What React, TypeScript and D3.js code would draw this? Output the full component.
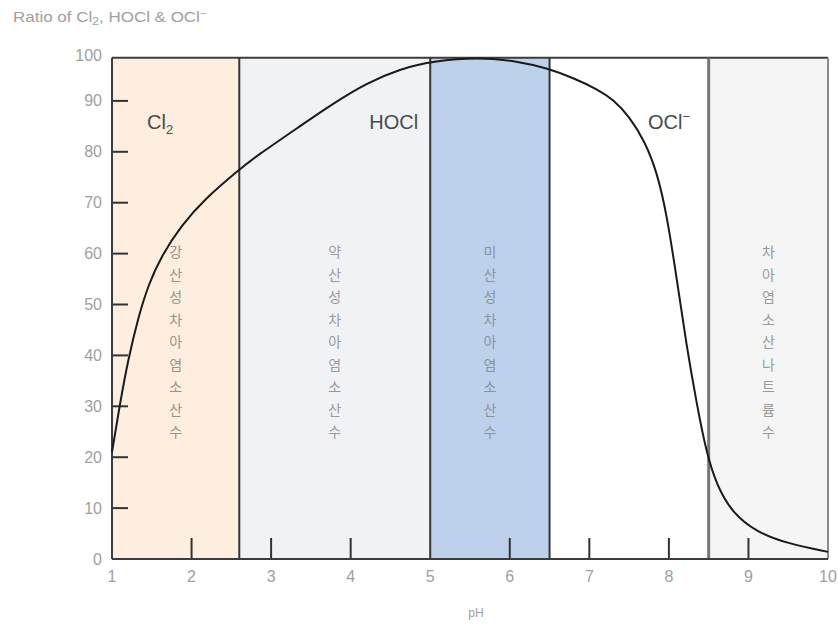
import React from "react";
import * as d3 from "d3";

// Distribution of HOCl across pH (percent)
const phValues = [1.0, 1.1, 1.2, 1.33, 1.46, 1.62, 1.87, 2.17, 2.6, 2.8, 3.36, 3.78, 4.2, 4.62, 5.03, 5.6, 6.1, 6.48, 6.8, 7.1, 7.3, 7.5, 7.7, 7.85, 7.97, 8.1, 8.22, 8.35, 8.47, 8.6, 8.8, 9.1, 9.5, 10.0];
const ratioValues = [21, 30.5, 39, 47.5, 54, 59.5, 65.5, 70.8, 76.5, 79, 85, 89.5, 93.5, 96.3, 97.8, 98.6, 97.8, 96.4, 94.5, 92.3, 90.3, 87, 82, 76, 68, 55, 42, 30.5, 21, 14.5, 9, 5.3, 3, 1.4];

// pH bands for the water types
const bandStarts = [1, 2.6, 5, 6.5, 8.5];
const bandEnds = [2.6, 5, 6.5, 8.5, 10];
const bandFills = ["#fdeedf", "#f1f2f6", "#bdd1ea", "#ffffff", "#f5f5f5"];
const bandNames = ["강산성차아염소산수", "약산성차아염소산수", "미산성차아염소산수", "", "차아염소산나트륨수"];
const bandNameColors = ["#9a928a", "#9a9a9e", "#8893a2", "#999", "#9a9a9a"];

const xTicks = [1, 2, 3, 4, 5, 6, 7, 8, 9, 10];
const xTickMarks = [2, 3, 4, 6, 7, 8, 9];
const yTicks = [0, 10, 20, 30, 40, 50, 60, 70, 80, 90, 100];
const yTickMarks = [10, 20, 30, 40, 50, 60, 70, 80, 90];
const frameTop = 98.5;

export default function App() {
  const W = 838, H = 625;
  const x = d3.scaleLinear().domain([1, 10]).range([112, 828]);
  const y = d3.scaleLinear().domain([0, 100]).range([559, 50]);
  const data = phValues.map((p, i) => [p, ratioValues[i]] as [number, number]);
  const line = d3.line<[number, number]>().x(d => x(d[0])).y(d => y(d[1])).curve(d3.curveBasis);

  const sans = "'Liberation Sans', Arial, sans-serif";
  const kr = "'Noto Sans CJK KR', sans-serif";
  const yTop = y(frameTop), yBot = y(0);

  return (
    <svg width={W} height={H} style={{ position: "absolute", left: 0, top: 0, background: "#fff" }}>
      <text x={13} y={22} fontFamily={sans} fontSize={14} fill="#a0a0a0" textLength={194} lengthAdjust="spacingAndGlyphs">
        Ratio of Cl<tspan fontSize={10} dy={3}>2</tspan><tspan dy={-3}>, HOCl &amp; OCl</tspan><tspan fontSize={10} dy={-5}>−</tspan>
      </text>

      {bandStarts.map((s, i) => (
        <rect key={"b" + i} x={x(s)} y={yTop} width={x(bandEnds[i]) - x(s)} height={yBot - yTop} fill={bandFills[i]} />
      ))}

      {bandNames.map((name, i) => {
        const cx = (x(bandStarts[i]) + x(bandEnds[i])) / 2;
        return Array.from(name).map((ch, j) => (
          <text key={"n" + i + "_" + j} x={cx} y={y(60.5) + j * 22.5} fontFamily={kr} fontSize={14}
            textAnchor="middle" dominantBaseline="central" fill={bandNameColors[i]}>{ch}</text>
        ));
      })}

      {/* frame */}
      <line x1={x(1)} x2={x(10)} y1={yTop} y2={yTop} stroke="#3c3c3c" strokeWidth={2} />
      <line x1={x(10)} x2={x(10)} y1={yTop} y2={yBot} stroke="#8a8a8a" strokeWidth={2} />

      {/* band separators */}
      {[2.6, 5, 6.5].map(v => (
        <line key={"s" + v} x1={x(v)} x2={x(v)} y1={yTop} y2={yBot} stroke="#343434" strokeWidth={2} />
      ))}
      <line x1={x(8.5)} x2={x(8.5)} y1={yTop} y2={yBot} stroke="#777" strokeWidth={3} />

      {/* tick marks */}
      {xTickMarks.map(v => (
        <line key={"xt" + v} x1={x(v)} x2={x(v)} y1={yBot} y2={yBot - 21} stroke="#333" strokeWidth={2} />
      ))}
      {yTickMarks.map(v => (
        <line key={"yt" + v} x1={x(1)} x2={x(1) + 16} y1={y(v)} y2={y(v)} stroke="#333" strokeWidth={2} />
      ))}

      <line x1={x(1)} x2={x(1)} y1={yTop} y2={yBot} stroke="#3c3c3c" strokeWidth={2} />
      <line x1={x(1)} x2={x(10)} y1={yBot} y2={yBot} stroke="#3c3c3c" strokeWidth={2} />

      <path d={line(data) || ""} fill="none" stroke="#1a1a1a" strokeWidth={2} />

      {/* species labels */}
      <text x={147} y={129} fontFamily={sans} fontSize={20} fill="#4a4a4a">Cl<tspan fontSize={13} dy={5}>2</tspan></text>
      <text x={x(5) - 12} y={129} textAnchor="end" fontFamily={sans} fontSize={20} fill="#4a4a4a">HOCl</text>
      <text x={648} y={129} fontFamily={sans} fontSize={20} fill="#4a4a4a">OCl<tspan fontSize={13} dy={-8}>−</tspan></text>

      {/* tick labels */}
      {yTicks.map(v => (
        <text key={"yl" + v} x={102} y={v === 100 ? 55 : y(v)} textAnchor="end" dominantBaseline="central"
          fontFamily={sans} fontSize={16} fill="#a0a0a0">{v}</text>
      ))}
      {xTicks.map(v => (
        <text key={"xl" + v} x={x(v)} y={576} textAnchor="middle" dominantBaseline="central"
          fontFamily={sans} fontSize={16} fill="#a0a0a0">{v}</text>
      ))}
      <text x={(x(1) + x(10)) / 2 + 6} y={613} textAnchor="middle" dominantBaseline="central"
        fontFamily={sans} fontSize={12} fill="#a0a0a0">pH</text>
    </svg>
  );
}
